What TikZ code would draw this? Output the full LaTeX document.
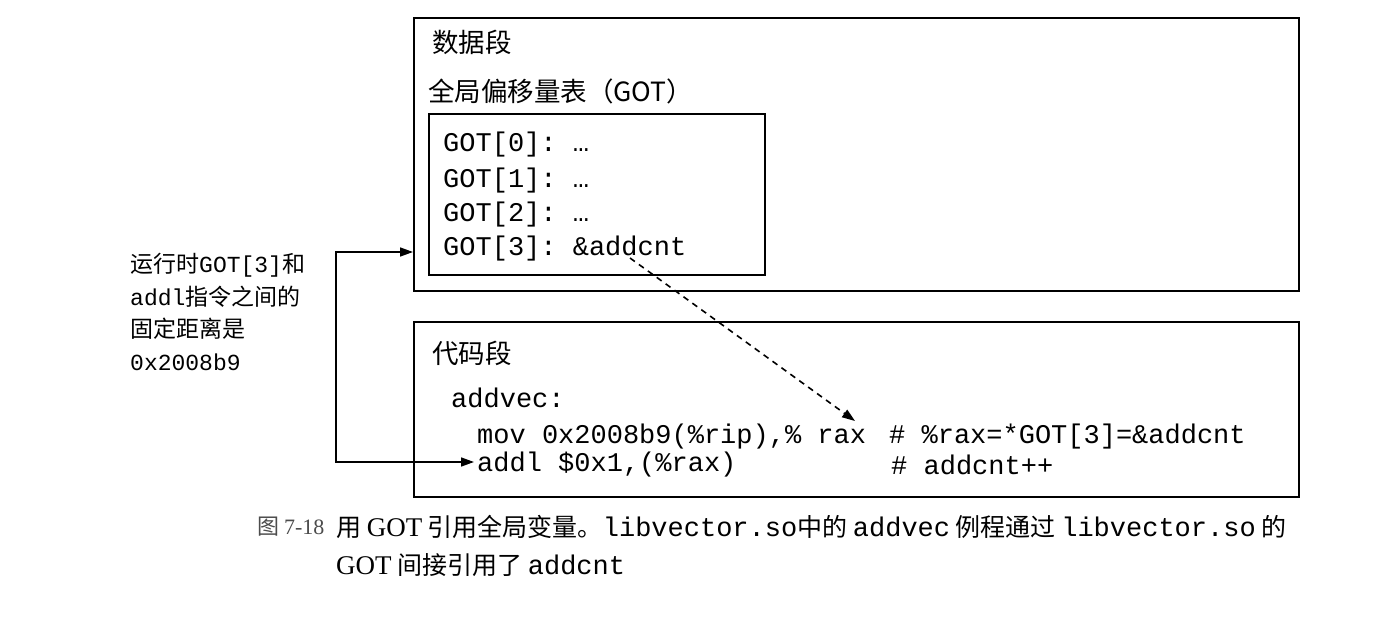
\documentclass[tikz,border=0pt]{standalone}
\usepackage{fontspec}
\setmainfont{Liberation Serif}
\setmonofont{Liberation Mono}
\newfontfamily\cjk{Noto Sans CJK SC}
\usetikzlibrary{arrows.meta, positioning, calc}
\newcommand{\zh}[1]{{\cjk #1}}
\newcommand{\cd}[1]{{\ttfamily #1}}
\newcommand{\capcd}[1]{{\ttfamily\fontsize{27}{30}\selectfont #1}}

\begin{document}
\begin{tikzpicture}[
  x=1pt, y=-1pt,
  >={Triangle[length=13pt,width=9pt]},
  seg/.style={draw, line width=1.6pt, inner sep=0pt, anchor=north west},
  lbl/.style={anchor=west, inner sep=0pt, font=\cjk\fontsize{26.5}{30}\selectfont},
  code/.style={anchor=west, inner sep=0pt, font=\ttfamily\fontsize{27}{32}\selectfont},
  note/.style={anchor=north west, inner sep=0pt, align=left, font=\fontsize{23}{32.5}\selectfont},
  figcap/.style={anchor=west, inner sep=0pt, font=\cjk\fontsize{25}{28}\selectfont},
  link/.style={draw, line width=1.6pt}
  ]
  \useasboundingbox (0,0) rectangle (1374,618);
  % segments
  \node[seg, minimum width=885pt, minimum height=273pt] (data) at (413,17) {};
  \node[seg, minimum width=336pt, minimum height=161pt] (gotbox) at (428,113) {};
  \node[seg, minimum width=885pt, minimum height=175pt] (text) at (413,321) {};
  \node[lbl] (datat) at (432,42) {数据段};
  \node[lbl] (gott) at (428,91) {全局偏移量表（GOT）};
  \node[code] (got0) at (443,145) {GOT[0]: …};
  \node[code] (got1) at (443,181) {GOT[1]: …};
  \node[code] (got2) at (443,215) {GOT[2]: …};
  \node[code] (got3) at (443,249) {GOT[3]: \&addcnt};
  \node[lbl] (textt) at (432,353) {代码段};
  \node[code] (addvec) at (451,398) {addvec:};
  \node[code] (mov) at (477,437) {mov 0x2008b9(\%rip),\% rax};
  \node[code] (movc) at (889,437) {\# \%rax=*GOT[3]=\&addcnt};
  \node[code] (addl) at (477,465) {addl \$0x1,(\%rax)};
  \node[code] (addlc) at (891,465) {\# addcnt++};
  % offset note
  \node[note] (offs) at (130,253) {\zh{运行时}\cd{GOT[3]}\zh{和}\\
    \cd{addl}\zh{指令之间的}\\
    \zh{固定距离是}\\
    \cd{0x2008b9}};
  \coordinate (jt) at (336,252);
  \coordinate (jb) at (336,462);
  \draw[link, <->, shorten >=3pt] (data.west |- jt) -- (jt) -- (jb) -- (addl.west |- jb);
  % GOT[3] -> rax
  \coordinate (dsrc) at (630,258);
  \coordinate (dtgt) at (855,421);
  \draw[link, ->, dash pattern=on 6pt off 5pt] (dsrc) -- (dtgt);
  % caption
  \node[figcap, text=black!70, font=\cjk\fontsize{22}{26}\selectfont] (fig) at (257,527) {图 {\rmfamily 7-18}};
  \node[figcap] (cap1) at (336,527) {用 {\rmfamily\fontsize{27}{30}\selectfont GOT} 引用全局变量。\capcd{libvector.so}中的 \capcd{addvec} 例程通过 \capcd{libvector.so} 的};
  \node[figcap] (cap2) at (336,565) {{\rmfamily\fontsize{27}{30}\selectfont GOT} 间接引用了 \capcd{addcnt}};
\end{tikzpicture}
\end{document}
